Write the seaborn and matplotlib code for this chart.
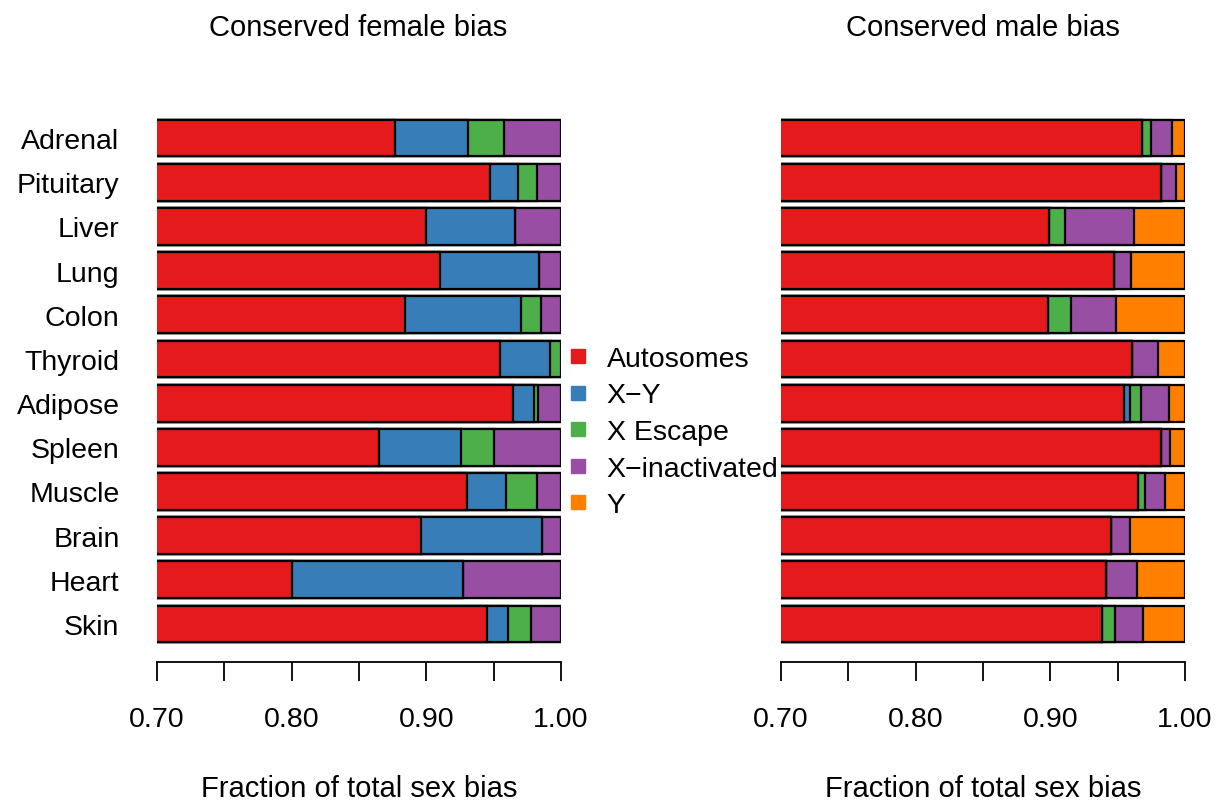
import numpy as np
import pandas as pd
import matplotlib
matplotlib.use("Agg")
import matplotlib.pyplot as plt
import seaborn as sns
from matplotlib.lines import Line2D

tissues = ["Adrenal", "Pituitary", "Liver", "Lung", "Colon", "Thyroid",
           "Adipose", "Spleen", "Muscle", "Brain", "Heart", "Skin"]
categories = ["Autosomes", "X\u2212Y", "X Escape", "X\u2212inactivated", "Y"]
colors = ["#E41A1C", "#377EB8", "#4DAF4A", "#984EA3", "#FF7F00"]

# Female-biased fractions per category
female_autosomes = [0.877, 0.947, 0.900, 0.910, 0.884, 0.955, 0.964, 0.865, 0.930, 0.896, 0.800, 0.945]
female_xy        = [0.054, 0.021, 0.066, 0.074, 0.086, 0.037, 0.016, 0.061, 0.029, 0.090, 0.127, 0.016]
female_xescape   = [0.027, 0.014, 0.000, 0.000, 0.015, 0.008, 0.003, 0.024, 0.023, 0.000, 0.000, 0.017]
female_xinact    = [0.042, 0.018, 0.034, 0.016, 0.015, 0.000, 0.017, 0.050, 0.018, 0.014, 0.073, 0.022]
female_y         = [0.000] * 12

# Male-biased fractions per category
male_autosomes = [0.968, 0.982, 0.899, 0.947, 0.898, 0.961, 0.955, 0.982, 0.965, 0.945, 0.941, 0.938]
male_xy        = [0.000, 0.000, 0.000, 0.000, 0.000, 0.000, 0.004, 0.000, 0.000, 0.000, 0.000, 0.000]
male_xescape   = [0.007, 0.000, 0.012, 0.000, 0.017, 0.000, 0.008, 0.000, 0.005, 0.000, 0.000, 0.010]
male_xinact    = [0.015, 0.011, 0.051, 0.013, 0.034, 0.019, 0.021, 0.007, 0.015, 0.014, 0.023, 0.021]
male_y         = [0.010, 0.007, 0.038, 0.040, 0.051, 0.020, 0.012, 0.011, 0.015, 0.041, 0.036, 0.031]

x_ticks = [0.70, 0.75, 0.80, 0.85, 0.90, 0.95, 1.00]
x_ticklabels = ["0.70", "", "0.80", "", "0.90", "", "1.00"]

sns.set_style("white")
plt.rcParams["font.family"] = ["Liberation Sans", "DejaVu Sans"]
for k in ["text.color", "axes.labelcolor", "xtick.color", "ytick.color", "axes.edgecolor"]:
    plt.rcParams[k] = "black"
FS = 20.5

W, H = 1217, 803
fig = plt.figure(figsize=(W / 100, H / 100), dpi=100)

def fx(px):
    return px / W

def fy(py):
    return 1 - py / H

ax_bottom = fy(663)
ax_top = fy(100)

axL = fig.add_axes([fx(157), ax_bottom, fx(404), ax_top - ax_bottom])
axR = fig.add_axes([fx(781), ax_bottom, fx(404), ax_top - ax_bottom])

def draw(ax, parts, show_y):
    df = pd.DataFrame({c: v for c, v in zip(categories, parts)})
    df["tissue"] = tissues
    cum = df[categories].cumsum(axis=1)
    for i in range(len(categories) - 1, -1, -1):
        sns.barplot(x=cum[categories[i]].values, y=df["tissue"], orient="h",
                    color=colors[i], saturation=1, width=0.833,
                    edgecolor="black", linewidth=1.6, errorbar=None, ax=ax)
    ax.set_xlim(0.70, 1.00)
    ax.set_ylim(11.86, -0.883)
    ax.set_xlabel("")
    ax.set_ylabel("")
    for s in ["top", "right", "left"]:
        ax.spines[s].set_visible(False)
    ax.spines["bottom"].set_linewidth(1.3)
    ax.spines["bottom"].set_color("black")
    ax.set_xticks(x_ticks)
    ax.set_xticklabels(x_ticklabels, fontsize=FS)
    ax.tick_params(axis="x", length=13.7, width=1.3, pad=18, color="black",
                   labelcolor="black", bottom=True)
    if show_y:
        ax.tick_params(axis="y", length=0, pad=27, labelsize=FS, labelcolor="black")
    else:
        ax.set_yticklabels([])
        ax.tick_params(axis="y", length=0)

draw(axL, [female_autosomes, female_xy, female_xescape, female_xinact, female_y], True)
draw(axR, [male_autosomes, male_xy, male_xescape, male_xinact, male_y], False)

FT = 21
fig.text(fx(358), fy(28), "Conserved female bias", ha="center", va="center", fontsize=FT, color="black")
fig.text(fx(983), fy(28), "Conserved male bias", ha="center", va="center", fontsize=FT, color="black")
fig.text(fx(359), fy(789), "Fraction of total sex bias", ha="center", va="center", fontsize=FT, color="black")
fig.text(fx(983), fy(789), "Fraction of total sex bias", ha="center", va="center", fontsize=FT, color="black")

handles = [Line2D([], [], marker="s", linestyle="none", markersize=10,
                  markerfacecolor=c, markeredgecolor=c) for c in colors]
fig.legend(handles, categories, loc="center left", bbox_to_anchor=(fx(564), fy(433)),
           frameon=False, fontsize=FS, handlelength=1.0, handletextpad=0.5,
           labelspacing=0.37, borderpad=0, borderaxespad=0, labelcolor="black")

fig.savefig("out.png", dpi=100)
